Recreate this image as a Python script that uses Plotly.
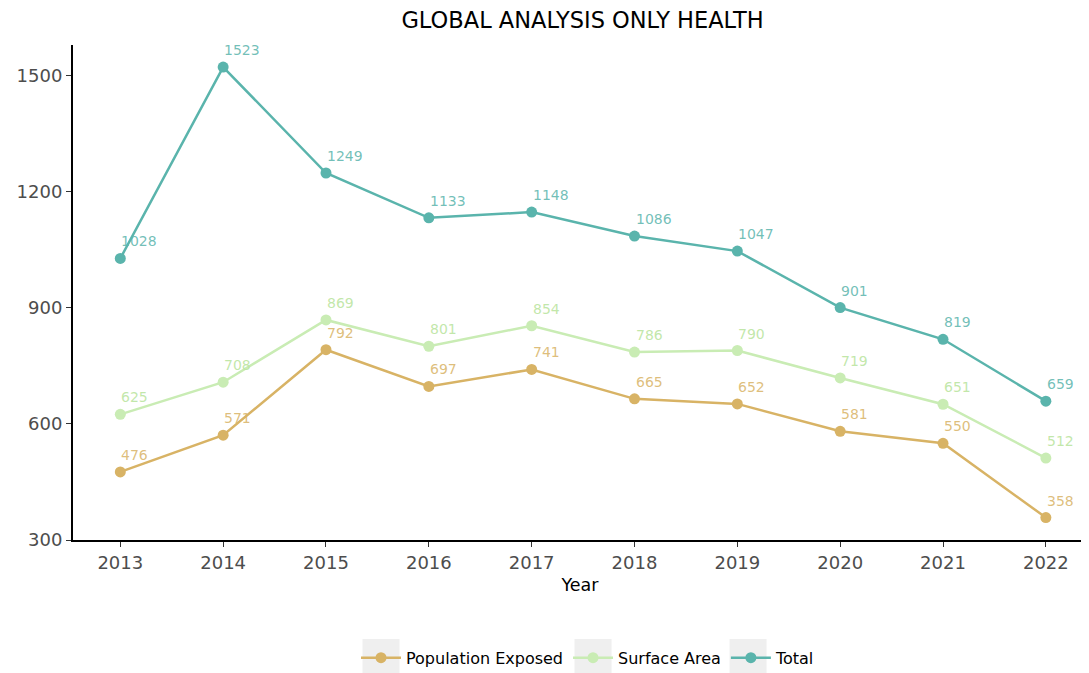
import plotly.graph_objects as go

years = [2013, 2014, 2015, 2016, 2017, 2018, 2019, 2020, 2021, 2022]
population_exposed = [476, 571, 792, 697, 741, 665, 652, 581, 550, 358]
surface_area = [625, 708, 869, 801, 854, 786, 790, 719, 651, 512]
total = [1028, 1523, 1249, 1133, 1148, 1086, 1047, 901, 819, 659]

series = [
    ("Population Exposed", population_exposed, "#d8b365", "rgba(216,179,101,0.85)"),
    ("Surface Area", surface_area, "#c9ecb4", "rgba(190,230,165,0.95)"),
    ("Total", total, "#5ab4ac", "rgba(90,180,172,0.85)"),
]

fig = go.Figure()
annotations = []
for name, vals, col, tcol in series:
    fig.add_trace(go.Scatter(
        x=years, y=vals, name=name, mode="lines+markers",
        line=dict(color=col, width=2.5),
        marker=dict(color=col, size=11),
    ))
    for x, v in zip(years, vals):
        annotations.append(dict(
            x=x, y=v, text=str(v), showarrow=False, xanchor="left", yanchor="middle",
            yshift=17, xshift=-1, font=dict(color=tcol, size=14, family="DejaVu Sans"),
        ))

# ggplot-style grey legend key backgrounds (paper coords)
key_boxes = [(0.2855, 0.3220), (0.4946, 0.5311), (0.6475, 0.6840)]
shapes = [dict(type="rect", xref="paper", yref="paper", x0=a, x1=b, y0=-0.200, y1=-0.290,
               fillcolor="#efefef", line=dict(width=0), layer="below") for a, b in key_boxes]

fig.update_layout(
    width=1089, height=673,
    paper_bgcolor="white", plot_bgcolor="white",
    margin=dict(l=65, r=10, t=37, b=141, autoexpand=False),
    font=dict(family="DejaVu Sans", color="#4d4d4d"),
    title=dict(text="GLOBAL ANALYSIS ONLY HEALTH", x=0.5276, xanchor="center",
               y=1 - 12.5 / 673, yanchor="middle",
               font=dict(size=22.5, color="black")),
    showlegend=True,
    legend=dict(orientation="h", x=0.2791, xanchor="left", y=-0.238, yanchor="middle",
                font=dict(size=16, color="black"), bgcolor="rgba(0,0,0,0)", itemwidth=40),
    annotations=annotations,
    shapes=shapes,
    xaxis=dict(range=[2012.54, 2022.4], tickvals=years, ticktext=[str(y) for y in years],
               automargin=False,
               showgrid=False, zeroline=False, showline=True, linecolor="black", linewidth=2,
               ticks="outside", ticklen=5, tickcolor="#333", tickfont=dict(size=18, color="#4d4d4d"),
               title=dict(text="Year", font=dict(size=17.5, color="black"), standoff=7)),
    yaxis=dict(range=[300, 1580], tickvals=[300, 600, 900, 1200, 1500],
               automargin=False,
               showgrid=False, zeroline=False, showline=True, linecolor="black", linewidth=2,
               ticks="outside", ticklen=5, tickcolor="#333", tickfont=dict(size=18, color="#4d4d4d")),
)

fig.write_html("out.html")
